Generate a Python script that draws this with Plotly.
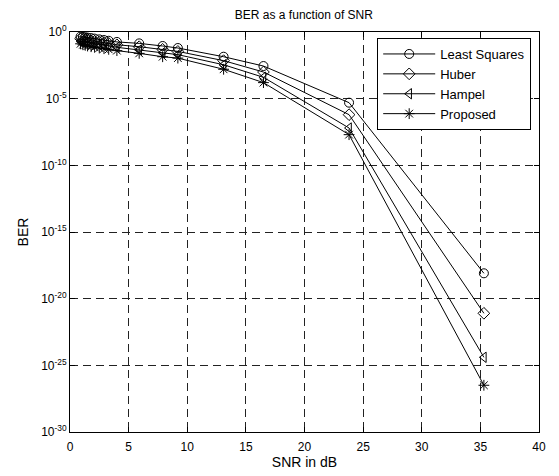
import plotly.graph_objects as go

snr_db = [0.9, 1.1, 1.3, 1.5, 1.8, 2.1, 2.5, 2.9, 3.3, 4.0, 5.9, 7.9, 9.2, 13.1, 16.5, 23.8, 35.3]

ber_ls = [4.5e-1, 4.2e-1, 4.0e-1, 3.8e-1, 3.5e-1, 3.2e-1, 2.8e-1, 2.5e-1, 2.2e-1, 1.8e-1,
          1.4e-1, 8.9e-2, 6.3e-2, 1.4e-2, 2.8e-3, 5.0e-6, 8.0e-19]
ber_huber = [3.2e-1, 2.8e-1, 2.6e-1, 2.5e-1, 2.2e-1, 2.0e-1, 1.8e-1, 1.6e-1, 1.4e-1, 1.1e-1,
             7.9e-2, 5.0e-2, 3.5e-2, 7.1e-3, 1.0e-3, 6.3e-7, 8.0e-22]
ber_hampel = [2.0e-1, 1.8e-1, 1.7e-1, 1.6e-1, 1.4e-1, 1.3e-1, 1.1e-1, 1.0e-1, 8.9e-2, 7.1e-2,
              4.5e-2, 2.8e-2, 2.0e-2, 3.5e-3, 4.0e-4, 6.3e-8, 4.0e-25]
ber_proposed = [1.3e-1, 1.1e-1, 1.0e-1, 8.9e-2, 7.9e-2, 7.1e-2, 6.3e-2, 5.6e-2, 5.0e-2, 4.0e-2,
                2.5e-2, 1.4e-2, 1.1e-2, 1.6e-3, 1.6e-4, 2.0e-8, 3.2e-27]

series = [
    ("Least Squares", ber_ls, "circle-open"),
    ("Huber", ber_huber, "diamond-open"),
    ("Hampel", ber_hampel, "triangle-left-open"),
    ("Proposed", ber_proposed, "asterisk-open"),
]

y_tick_vals = [1e0, 1e-5, 1e-10, 1e-15, 1e-20, 1e-25, 1e-30]
y_tick_text = ["10<sup>0</sup>", "10<sup>-5</sup>", "10<sup>-10</sup>", "10<sup>-15</sup>",
               "10<sup>-20</sup>", "10<sup>-25</sup>", "10<sup>-30</sup>"]

fig = go.Figure()
for name, ber, sym in series:
    fig.add_trace(go.Scatter(
        x=snr_db, y=ber, mode="lines+markers", name=name,
        line=dict(color="black", width=1),
        marker=dict(symbol=sym, size=9, color="black", line=dict(width=1, color="black")),
    ))

axis_common = dict(
    showline=True, linecolor="black", linewidth=1, mirror="ticks",
    ticks="inside", ticklen=5, tickcolor="black",
    showgrid=True, gridcolor="#222222", griddash="8px,5px", gridwidth=0.8,
    zeroline=False, tickfont=dict(size=12, color="black"),
)

# page has an 8px body margin, so the figure is a bit smaller than the window
fig.update_layout(
    width=551, height=468,
    margin=dict(l=62, r=20, t=24, b=44),
    paper_bgcolor="white", plot_bgcolor="white",
    font=dict(family="Liberation Sans, Arial, sans-serif", size=12, color="black"),
    title=dict(text="BER as a function of SNR", x=0.537, xanchor="center", y=1.0, yanchor="top",
               pad=dict(t=3), font=dict(size=12)),
    xaxis=dict(range=[0, 40], dtick=5, ticklabelstandoff=4,
               title=dict(text="SNR in dB", standoff=0), **axis_common),
    yaxis=dict(type="log", range=[-30, 0], tickvals=y_tick_vals, ticktext=y_tick_text,
               title=dict(text="BER", standoff=9), **axis_common),
    legend=dict(x=0.655, y=0.985, xanchor="left", yanchor="top",
                bgcolor="white", bordercolor="black", borderwidth=1,
                font=dict(size=13), itemwidth=52),
    showlegend=True,
)

fig.write_html("out.html")
